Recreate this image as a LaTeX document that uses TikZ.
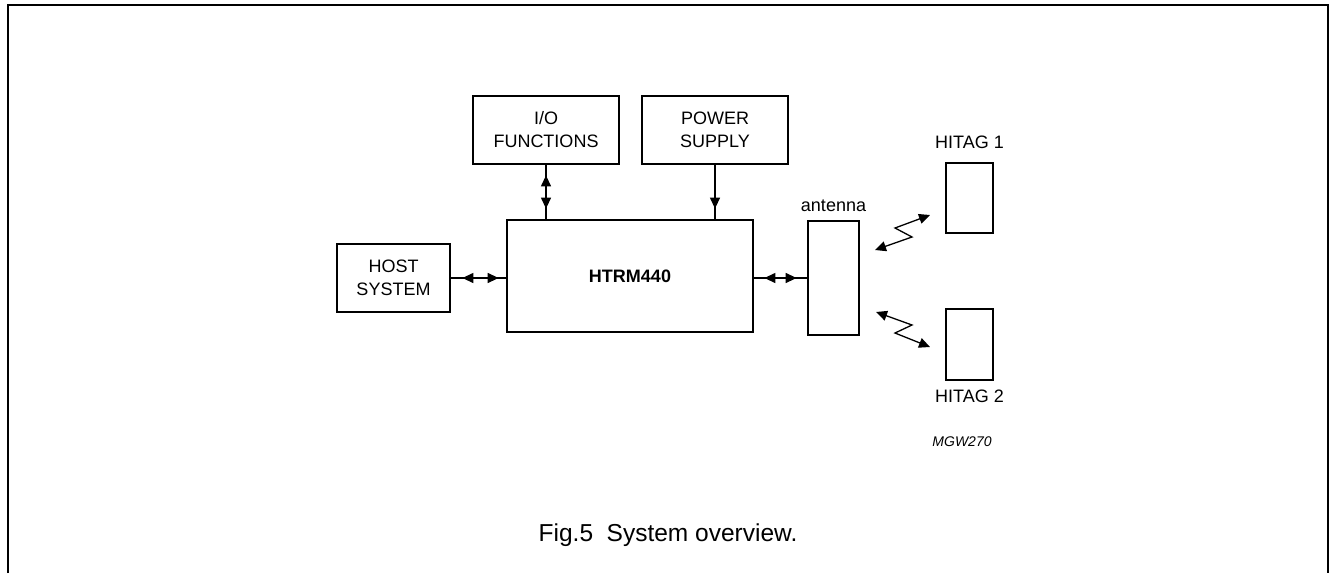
\documentclass[tikz,border=0pt]{standalone}
\usepackage{fontspec}
\setmainfont{Liberation Sans}
\usetikzlibrary{arrows.meta,positioning}

\begin{document}
\begin{tikzpicture}[x=1pt, y=-1pt,
		block/.style={draw, line width=2.8pt, inner sep=0pt, align=center, font=\fontsize{18}{23}\selectfont},
		lbl/.style={inner sep=0pt, anchor=base, font=\fontsize{18}{23}\selectfont},
		link/.style={line width=1.3pt},
		both/.style={link, {Triangle[length=11pt,width=10pt]}-{Triangle[length=11pt,width=10pt]}},
		down/.style={link, -{Triangle[length=11pt,width=10pt]}}]
		\useasboundingbox (0,0) rectangle (1329,573);

		% frame
		\draw[line width=2pt] (7.5,573) -- (7.5,4.5) -- (1328,4.5) -- (1328,573);

		% blocks
		\node[block, minimum width=146pt, minimum height=68pt] (io) at (546,130) {I/O\\FUNCTIONS};
		\node[block, minimum width=146pt, minimum height=68pt] (power) at (715,130) {POWER\\SUPPLY};
		\node[block, minimum width=246pt, minimum height=112pt, font=\fontsize{18}{23}\selectfont\bfseries] (htrm) at (630,276) {HTRM440};
		\node[block, minimum width=113pt, minimum height=68pt] (host) at (393.5,278) {HOST\\SYSTEM};
		\node[block, minimum width=51pt, minimum height=114pt] (ant) at (833.5,278) {};
		\node[block, minimum width=47pt, minimum height=70pt] (tag1) at (969.5,198) {};
		\node[block, minimum width=47pt, minimum height=71pt] (tag2) at (969.5,344.5) {};

		% labels
		\node[lbl] (antlbl) at (833.5,211) {antenna};
		\node[lbl] (tag1lbl) at (969.5,148.5) {HITAG 1};
		\node[lbl] (tag2lbl) at (969.5,402.5) {HITAG 2};
		\node[lbl, font=\fontsize{14}{17}\selectfont\itshape] (code) at (962,446) {MGW270};
		\node[lbl, font=\fontsize{24.5}{29}\selectfont] (caption) at (668,541) {Fig.5\ \ System overview.};

		% links to the module
		\draw[link] (io.south) -- (io.south |- htrm.north);
		\draw[both, shorten <=10pt, shorten >=10pt] (io.south) -- (io.south |- htrm.north);
		\draw[link] (power.south) -- (power.south |- htrm.north);
		\draw[down, shorten >=10pt] (power.south) -- (power.south |- htrm.north);
		\draw[link] (host.east) -- (htrm.west |- host.east);
		\draw[both, shorten <=11pt, shorten >=7pt] (host.east) -- (htrm.west |- host.east);
		\draw[link] (htrm.east |- ant.west) -- (ant.west);
		\draw[both, shorten <=10pt, shorten >=10pt] (htrm.east |- ant.west) -- (ant.west);

		% radio links
		\coordinate (r1a) at (875,250);
		\coordinate (r1b) at (912,237);
		\coordinate (r1c) at (895,228);
		\coordinate (r1d) at (930,215);
		\draw[both] (r1a) -- (r1b) -- (r1c) -- (r1d);
		\coordinate (r2a) at (876,312);
		\coordinate (r2b) at (912,325);
		\coordinate (r2c) at (895,333);
		\coordinate (r2d) at (930,347);
		\draw[both] (r2a) -- (r2b) -- (r2c) -- (r2d);
\end{tikzpicture}
\end{document}
